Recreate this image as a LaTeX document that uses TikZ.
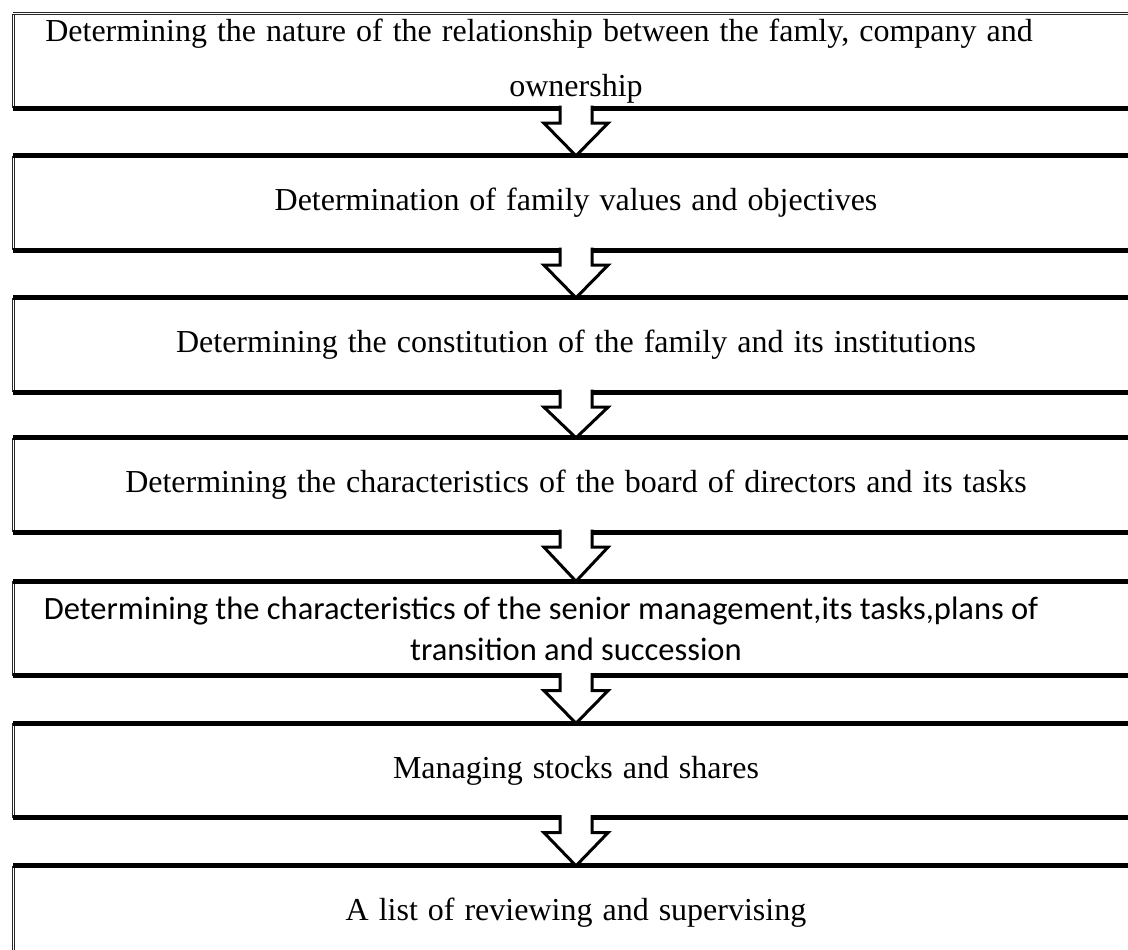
\documentclass[tikz,border=0pt]{standalone}
\usepackage{fontspec}
\setmainfont{Liberation Serif}
\newfontfamily\calibrifont{Carlito}
\usetikzlibrary{calc}

\newcommand{\widewords}{\spaceskip=10pt plus 2pt minus 1pt\relax}

\tikzset{
  stage/.style={minimum width=1125pt, minimum height=94pt, inner sep=0pt, align=center,
    font=\fontsize{32}{55}\selectfont\widewords},
  rule/.style={line width=5pt},
  sideline/.style={draw=black!85, double, double distance=1.4pt, line width=0.9pt},
  flowarrow/.style={line width=3pt, fill=white, line join=miter},
}

% one box: side rule, top and bottom rules
\newcommand{\stagebox}[1]{%
  \draw[sideline] (#1.north west) -- (#1.south west);
  \draw[rule] (#1.north west) -- (#1.north east);
  \draw[rule] (#1.south west) -- (#1.south east);
}
% block arrow from one box down to the next
\newcommand{\stagearrow}[2]{%
  \filldraw[flowarrow] ($(#1.south)+(-16,-2.5)$) -- ($(#1.south)+(-16,15)$)
    -- ($(#1.south)+(-32,15)$) -- (#2.north) -- ($(#1.south)+(32,15)$)
    -- ($(#1.south)+(16,15)$) -- ($(#1.south)+(16,-2.5)$);
}

\begin{document}
\begin{tikzpicture}[x=1pt, y=-1pt]
    \useasboundingbox[fill=white] (0,0) rectangle (1128,950);
    \node[stage] (nature) at (576, 61) {Determining the nature of the relationship between the famly, company and\hspace*{74pt}\\ownership};
    \node[stage] (values) at (576, 203) {Determination of family values and objectives};
    \node[stage] (constitution) at (576, 345) {Determining the constitution of the family and its institutions};
    \node[stage] (board) at (576, 485) {Determining the characteristics of the board of directors and its tasks};
    \node[stage, font=\calibrifont\fontsize{32.5}{41}\selectfont] (senior) at (576, 628.5) {Determining the characteristics of the senior management,its tasks,plans of\hspace*{70pt}\\transition and succession};
    \node[stage] (shares) at (576, 770.5) {Managing stocks and shares};
    \node[stage] (review) at (576, 913) {A list of reviewing and supervising};
    % first box has a thin double top
    \draw[sideline] (nature.north west) -- (nature.south west);
    \draw[sideline] (nature.north west) -- (nature.north east);
    \draw[rule] (nature.south west) -- (nature.south east);
    \stagebox{values}
    \stagebox{constitution}
    \stagebox{board}
    \stagebox{senior}
    \stagebox{shares}
    \stagebox{review}
    \stagearrow{nature}{values}
    \stagearrow{values}{constitution}
    \stagearrow{constitution}{board}
    \stagearrow{board}{senior}
    \stagearrow{senior}{shares}
    \stagearrow{shares}{review}
\end{tikzpicture}
\end{document}
